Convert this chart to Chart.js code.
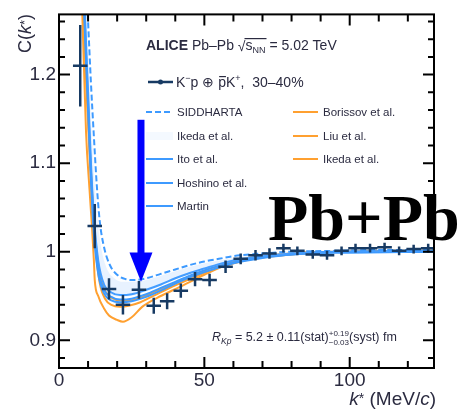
<!DOCTYPE html>
<html>
<head>
<meta charset="utf-8">
<script src="https://cdn.jsdelivr.net/npm/chart.js@4.4.0/dist/chart.umd.min.js"></script>
<style>
  html, body { margin: 0; padding: 0; background: #fff; }
</style>
</head>
<body>
<canvas id="cfChart" width="461" height="409"></canvas>
<script>
// K-p (+ cc) correlation, Pb-Pb 5.02 TeV, 30-40%
const kStar = [7.3, 12.3, 17.2, 22.0, 27.5, 32.6, 37.2, 41.9, 46.8, 51.8, 57.3, 62.5, 67.6, 72.4, 77.2, 82.0, 87.3, 92.2, 97.2, 102.0, 107.0, 112.0, 117.0, 122.0, 127.0];
const cVal = [1.210, 1.029, 0.958, 0.940, 0.957, 0.939, 0.944, 0.956, 0.969, 0.968, 0.983, 0.992, 0.996, 0.998, 1.004, 1.001, 0.997, 0.996, 1.001, 1.004, 1.004, 1.005, 1.001, 1.003, 1.004];
const cErr = [0.046, 0.025, 0.012, 0.011, 0.010, 0.009, 0.009, 0.008, 0.008, 0.007, 0.007, 0.006, 0.006, 0.006, 0.005, 0.005, 0.005, 0.005, 0.005, 0.005, 0.005, 0.005, 0.005, 0.005, 0.005];
const kHalfBin = 2.5;

// chiral model curves (k*, C)
const sidK = [9, 10, 11, 12, 13, 14, 15.5, 17.5, 20, 23, 26, 30, 35, 40, 45, 50, 55, 60, 70, 80, 95, 110, 130];
const sidC = [1.33, 1.26, 1.19, 1.13, 1.075, 1.035, 1.005, 0.985, 0.974, 0.969, 0.968, 0.970, 0.975, 0.980, 0.985, 0.989, 0.992, 0.995, 0.998, 1.000, 1.001, 1.002, 1.002];

const ikedaBK = [8.5, 9.5, 10.5, 11.5, 12.5, 14, 16, 19, 22, 26, 30, 35, 40, 45, 50, 55, 60, 70, 80, 95, 130];
const ikedaBHi = [1.35, 1.27, 1.19, 1.12, 1.065, 1.015, 0.985, 0.970, 0.966, 0.966, 0.968, 0.973, 0.978, 0.983, 0.987, 0.990, 0.993, 0.997, 0.999, 1.001, 1.002];
const ikedaBLo = [1.31, 1.22, 1.14, 1.07, 1.020, 0.980, 0.958, 0.950, 0.949, 0.951, 0.955, 0.962, 0.969, 0.975, 0.980, 0.985, 0.989, 0.994, 0.997, 0.999, 1.000];

const itoK = [8, 9, 10, 11, 12, 13.5, 15.5, 18, 21, 25, 30, 35, 40, 45, 50, 55, 60, 70, 80, 95, 130];
const itoC = [1.35, 1.26, 1.18, 1.10, 1.04, 0.990, 0.963, 0.954, 0.951, 0.952, 0.957, 0.963, 0.970, 0.976, 0.981, 0.986, 0.990, 0.995, 0.998, 1.000, 1.001];
const hoshinoC = [1.34, 1.25, 1.17, 1.09, 1.03, 0.980, 0.957, 0.949, 0.946, 0.947, 0.952, 0.959, 0.966, 0.973, 0.979, 0.984, 0.988, 0.994, 0.997, 0.999, 1.000];
const martinC = [1.33, 1.24, 1.16, 1.08, 1.02, 0.975, 0.953, 0.945, 0.943, 0.944, 0.949, 0.956, 0.964, 0.971, 0.977, 0.982, 0.987, 0.993, 0.997, 0.999, 1.000];

const orK = [7.5, 8.5, 9.5, 10.5, 11.5, 12.5, 14, 16, 18, 21, 24, 28, 33, 40, 47, 55, 65, 80, 100, 130];
const borissovC = [1.36, 1.27, 1.19, 1.12, 1.06, 1.015, 0.975, 0.955, 0.948, 0.945, 0.945, 0.948, 0.955, 0.965, 0.975, 0.984, 0.992, 0.998, 1.000, 1.001];
const liuC = [1.35, 1.26, 1.18, 1.11, 1.05, 1.005, 0.965, 0.946, 0.940, 0.938, 0.939, 0.943, 0.951, 0.962, 0.972, 0.982, 0.991, 0.997, 1.000, 1.001];

const ikedaOK = [7, 8, 9.3, 10.5, 11.4, 12.0, 12.3, 13.5, 15.5, 17.2, 20, 22, 25, 28.7, 35, 41.4, 50, 58.6, 70, 85, 100, 130];
const ikedaOC = [1.36, 1.27, 1.135, 1.07, 1.025, 0.990, 0.968, 0.950, 0.936, 0.928, 0.923, 0.921, 0.926, 0.938, 0.950, 0.960, 0.974, 0.986, 0.994, 0.999, 1.000, 1.001];

const xTickValues = [0, 50, 100];
const xTickLabels = ['0', '50', '100'];
const yTickValues = [0.9, 1.0, 1.1, 1.2];
const yTickLabels = ['0.9', '1', '1.1', '1.2'];

// arrow marking the dip (data units)
const arrowK = 28.2;
const arrowTop = 1.149;
const arrowHeadBase = 0.999;
const arrowTip = 0.966;

const BLUE = '#3d9aff';
const ORANGE = '#ffa030';
const NAVY = '#173a63';
const TEXT = '#2b2b40';

const pts = (xs, ys) => xs.map((x, i) => ({ x, y: ys[i] }));

function curve(label, xs, ys, color, extra) {
  return Object.assign({
    label,
    data: pts(xs, ys),
    showLine: true,
    borderColor: color,
    borderWidth: 2,
    pointRadius: 0,
    cubicInterpolationMode: 'monotone',
    fill: false,
    order: 2,
  }, extra || {});
}

// draws rich text runs: {t, f, dy, stack:[top,bottom]}
function drawRich(ctx, x, y, parts) {
  let cx = x;
  parts.forEach(p => {
    ctx.font = p.f;
    if (p.stack) {
      ctx.fillText(p.stack[0], cx, y - 5);
      ctx.fillText(p.stack[1], cx, y + 4);
      cx += Math.max(ctx.measureText(p.stack[0]).width, ctx.measureText(p.stack[1]).width);
      return;
    }
    ctx.fillText(p.t, cx, y + (p.dy || 0));
    if (p.bar) {
      const w = ctx.measureText(p.t).width;
      ctx.fillRect(cx + 1, y - 11, w - 1, 1.2);
    }
    cx += ctx.measureText(p.t).width;
  });
  return cx;
}

const frameTicks = {
  id: 'frameTicks',
  afterDraw(chart) {
    const { ctx, chartArea: a, scales: { x, y } } = chart;
    ctx.save();
    ctx.strokeStyle = '#000';
    ctx.lineWidth = 2;
    ctx.strokeRect(a.left, a.top, a.right - a.left, a.bottom - a.top);
    ctx.beginPath();
    for (let v = 0; v <= x.max; v += 10) {
      const px = x.getPixelForValue(v);
      const len = v % 50 === 0 ? 11 : 7;
      ctx.moveTo(px, a.bottom); ctx.lineTo(px, a.bottom - len);
      ctx.moveTo(px, a.top); ctx.lineTo(px, a.top + len);
    }
    for (let i = 44; i <= 63; i++) {
      const py = y.getPixelForValue(i / 50);
      if (py < a.top || py > a.bottom) continue;
      const len = i % 5 === 0 ? 11 : 6;
      ctx.moveTo(a.left, py); ctx.lineTo(a.left + len, py);
      ctx.moveTo(a.right, py); ctx.lineTo(a.right - len, py);
    }
    ctx.stroke();
    ctx.restore();
  }
};

const errorBars = {
  id: 'errorBars',
  afterDatasetsDraw(chart) {
    const { ctx, chartArea: a, scales: { x, y } } = chart;
    ctx.save();
    ctx.beginPath();
    ctx.rect(a.left, a.top, a.right - a.left, a.bottom - a.top);
    ctx.clip();
    ctx.strokeStyle = NAVY;
    ctx.lineWidth = 2.5;
    ctx.beginPath();
    kStar.forEach((k, i) => {
      const px = x.getPixelForValue(k);
      const py = y.getPixelForValue(cVal[i]);
      ctx.moveTo(x.getPixelForValue(k - kHalfBin), py);
      ctx.lineTo(x.getPixelForValue(k + kHalfBin), py);
      ctx.moveTo(px, y.getPixelForValue(cVal[i] + cErr[i]));
      ctx.lineTo(px, y.getPixelForValue(cVal[i] - cErr[i]));
    });
    ctx.stroke();

    // blue arrow
    const ax = x.getPixelForValue(arrowK);
    const top = y.getPixelForValue(arrowTop);
    const base = y.getPixelForValue(arrowHeadBase);
    const tip = y.getPixelForValue(arrowTip);
    ctx.fillStyle = '#0000ff';
    ctx.fillRect(ax - 3.5, top, 7, base - top + 1);
    ctx.beginPath();
    ctx.moveTo(ax - 11.5, base);
    ctx.lineTo(ax + 11.5, base);
    ctx.lineTo(ax, tip);
    ctx.closePath();
    ctx.fill();
    ctx.restore();
  }
};

const labels = {
  id: 'labels',
  afterDraw(chart) {
    const { ctx } = chart;
    ctx.save();
    ctx.fillStyle = TEXT;
    ctx.textBaseline = 'alphabetic';

    // header
    let cx = drawRich(ctx, 146, 50, [
      { t: 'ALICE', f: 'bold 14px "Liberation Sans"' },
      { t: ' Pb\u2013Pb ', f: '14px "Liberation Sans"' },
    ]);
    ctx.font = '14px "Liberation Sans"';
    ctx.fillText('\u221A', cx, 51);
    const sx = cx + ctx.measureText('\u221A').width - 1;
    const ex = drawRich(ctx, sx + 1, 50, [
      { t: 's', f: '14px "Liberation Sans"' },
      { t: 'NN', f: '9px "Liberation Sans"', dy: 3 },
    ]);
    ctx.fillRect(sx, 38, ex - sx + 1, 1.2);
    drawRich(ctx, ex, 50, [{ t: ' = 5.02 TeV', f: '14px "Liberation Sans"' }]);

    // data legend line
    ctx.strokeStyle = NAVY;
    ctx.lineWidth = 2.5;
    ctx.beginPath();
    ctx.moveTo(148, 82); ctx.lineTo(173, 82);
    ctx.stroke();
    ctx.fillStyle = NAVY;
    ctx.beginPath(); ctx.arc(160.5, 82, 2.5, 0, Math.PI * 2); ctx.fill();
    ctx.fillStyle = TEXT;
    drawRich(ctx, 176, 87, [
      { t: 'K', f: '14px "Liberation Sans"' },
      { t: '\u2212', f: '9px "Liberation Sans"', dy: -6 },
      { t: 'p \u2295 ', f: '14px "Liberation Sans"' },
      { t: 'p', f: '14px "Liberation Sans"', bar: true },
      { t: 'K', f: '14px "Liberation Sans"' },
      { t: '+', f: '9px "Liberation Sans"', dy: -6 },
      { t: ',  30\u201340%', f: '14px "Liberation Sans"' },
    ]);

    // model legend
    const rowsL = [['SIDDHARTA', 112, 'dash'], ['Ikeda et al.', 136, 'band'], ['Ito et al.', 159, 'line'], ['Hoshino et al.', 183, 'line'], ['Martin', 206, 'line']];
    const rowsR = [['Borissov et al.', 112], ['Liu et al.', 136], ['Ikeda et al.', 159]];
    ctx.lineWidth = 2;
    rowsL.forEach(([name, ry, kind]) => {
      if (kind === 'band') {
        ctx.fillStyle = 'rgba(120,180,255,0.08)';
        ctx.fillRect(146, ry - 4, 27, 8);
      } else {
        ctx.strokeStyle = BLUE;
        ctx.setLineDash(kind === 'dash' ? [6, 3] : []);
        ctx.beginPath(); ctx.moveTo(146, ry); ctx.lineTo(173, ry); ctx.stroke();
        ctx.setLineDash([]);
      }
      ctx.fillStyle = TEXT;
      ctx.font = '11.5px "Liberation Sans"';
      ctx.fillText(name, 177, ry + 4);
    });
    rowsR.forEach(([name, ry]) => {
      ctx.strokeStyle = ORANGE;
      ctx.beginPath(); ctx.moveTo(293, ry); ctx.lineTo(318, ry); ctx.stroke();
      ctx.fillStyle = TEXT;
      ctx.font = '11.5px "Liberation Sans"';
      ctx.fillText(name, 323, ry + 4);
    });

    // radius result
    drawRich(ctx, 212, 341, [
      { t: 'R', f: 'italic 12.5px "Liberation Sans"' },
      { t: 'Kp', f: 'italic 8.5px "Liberation Sans"', dy: 3 },
      { t: ' = 5.2 \u00B1 0.11(stat)', f: '12.5px "Liberation Sans"' },
      { stack: ['+0.19', '\u22120.03'], f: '8px "Liberation Sans"' },
      { t: '(syst) fm', f: '12.5px "Liberation Sans"' },
    ]);

    // axis titles
    ctx.fillStyle = TEXT;
    const parts = [
      { t: 'k', f: 'italic 19px "Liberation Sans"' },
      { t: '*', f: '14px "Liberation Sans"', dy: -2 },
      { t: ' (MeV/', f: '19px "Liberation Sans"' },
      { t: 'c', f: 'italic 19px "Liberation Sans"' },
      { t: ')', f: '19px "Liberation Sans"' },
    ];
    let w = 0;
    parts.forEach(p => { ctx.font = p.f; w += ctx.measureText(p.t).width; });
    drawRich(ctx, 436 - w, 405, parts);

    ctx.save();
    ctx.translate(31, 53);
    ctx.rotate(-Math.PI / 2);
    drawRich(ctx, 0, 0, [
      { t: 'C(', f: '18px "Liberation Sans"' },
      { t: 'k', f: 'italic 18px "Liberation Sans"' },
      { t: '*', f: '13px "Liberation Sans"', dy: -2 },
      { t: ')', f: '18px "Liberation Sans"' },
    ]);
    ctx.restore();

    // collision system tag
    ctx.fillStyle = '#000';
    ctx.font = 'bold 66px "Liberation Serif"';
    ctx.fillText('Pb+Pb', 268, 240);
    ctx.restore();
  }
};

new Chart(document.getElementById('cfChart'), {
  type: 'scatter',
  data: {
    datasets: [
      {
        label: 'data',
        data: pts(kStar, cVal),
        pointRadius: 1.5,
        pointBackgroundColor: NAVY,
        pointBorderWidth: 0,
        showLine: false,
        order: 0,
      },
      curve('SIDDHARTA', sidK, sidC, BLUE, { borderDash: [6, 3] }),
      curve('Ikeda hi', ikedaBK, ikedaBHi, 'rgba(0,0,0,0)', { borderWidth: 0, fill: '+1', backgroundColor: 'rgba(110,175,255,0.16)' }),
      curve('Ikeda lo', ikedaBK, ikedaBLo, 'rgba(0,0,0,0)', { borderWidth: 0 }),
      curve('Ito', itoK, itoC, BLUE),
      curve('Hoshino', itoK, hoshinoC, BLUE),
      curve('Martin', itoK, martinC, BLUE),
      curve('Borissov', orK, borissovC, ORANGE),
      curve('Liu', orK, liuC, ORANGE),
      curve('Ikeda orange', ikedaOK, ikedaOC, ORANGE),
    ],
  },
  options: {
    responsive: false,
    animation: false,
    layout: { padding: { top: 11, right: 27, left: 0, bottom: 0 } },
    plugins: { legend: { display: false }, tooltip: { enabled: false } },
    scales: {
      x: {
        type: 'linear',
        min: 0,
        max: 129,
        grid: { display: false, drawTicks: false },
        border: { display: false },
        afterBuildTicks: s => { s.ticks = xTickValues.map(v => ({ value: v })); },
        afterFit: s => { s.height = 41; },
        ticks: {
          padding: 1,
          maxRotation: 0,
          color: TEXT,
          font: { family: 'Liberation Sans', size: 19 },
          callback: v => xTickLabels[xTickValues.indexOf(v)],
        },
      },
      y: {
        type: 'linear',
        min: 0.8687,
        max: 1.268,
        grid: { display: false, drawTicks: false },
        border: { display: false },
        afterBuildTicks: s => { s.ticks = yTickValues.map(v => ({ value: v })); },
        afterFit: s => { s.width = 59; },
        ticks: {
          padding: 3,
          color: TEXT,
          font: { family: 'Liberation Sans', size: 19 },
          callback: v => yTickLabels[yTickValues.indexOf(v)],
        },
      },
    },
  },
  plugins: [frameTicks, errorBars, labels],
});
</script>
</body>
</html>
